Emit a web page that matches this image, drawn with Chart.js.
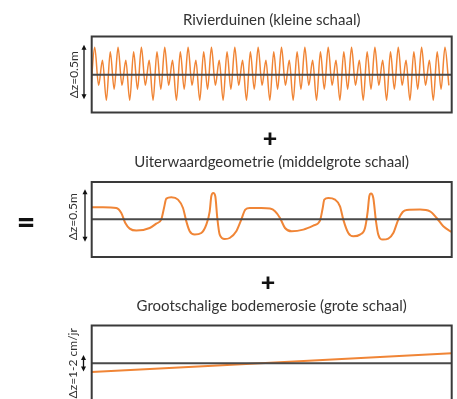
<!DOCTYPE html>
<html><head><meta charset="utf-8">
<script src="https://cdn.jsdelivr.net/npm/chart.js@4.4.1/dist/chart.umd.min.js"></script>
<style>
html,body{margin:0;padding:0;background:#fff;overflow:hidden;}
#wrap{position:relative;width:457px;height:399px;overflow:hidden;background:#fff;}
.c{position:absolute;left:0;width:457px;}
.c canvas{display:block;}
.sym{position:absolute;font-family:Lato,"DejaVu Sans",sans-serif;font-weight:900;color:#111;line-height:1;transform:translate(-50%,-50%);}
</style></head><body>
<div id="wrap">
  <div class="c" style="top:0;height:120px"><canvas id="c1" width="457" height="120"></canvas></div>
  <div class="c" style="top:150px;height:112px"><canvas id="c2" width="457" height="112"></canvas></div>
  <div class="c" style="top:292px;height:115px"><canvas id="c3" width="457" height="115"></canvas></div>
  <div class="sym" style="left:270px;top:137px;font-size:25px">+</div>
  <div class="sym" style="left:268px;top:281px;font-size:25px">+</div>
  <div class="sym" style="left:26px;top:221px;font-size:32px">=</div>
</div>
<script>
// ---------- data ----------
const panelTitles = [
  "Rivierduinen (kleine schaal)",
  "Uiterwaardgeometrie (middelgrote schaal)",
  "Grootschalige bodemerosie (grote schaal)"
];
const axisLabels = ["Δz=0.5m", "Δz=0.5m", "Δz=1-2 cm/jr"];

// river dunes: successive crest / trough heights (half-wave steps)
const duneHeights = [
  -14.5,
  27.5, -10.5, 14.5, -25.5, 23, -14.5,
  27.5, -10.5, 14.5, -25.5, 23, -14.5,
  27.5, -10.5, 14.5, -25.5, 23, -14.5,
  27.5, -10.5, 14.5, -25.5, 23, -14.5,
  27.5, -10.5, 14.5, -25.5, 23, -14.5,
  27.5, -10.5, 14.5, -25.5, 23, -14.5,
  27.5, -10.5, 14.5, -25.5, 23, -14.5,
  27.5, -10.5, 14.5, -25.5, 23, -14.5,
  27.5, -10.5, 14.5, -25.5, 23, -14.5,
  27.5, -10.5, 14.5, -25.5, 23, -14.5,
  27.5, -10.5, 14.5, -25.5, 23, -14.5,
  27.5, -10.5, 14.5, -25.5, 23, -14.5,
  27.5, -10.5, 14.5, -25.5, 23, -14.5,
  27.5, -10.5, 14.5, -25.5, 23, -14.5,
  27.5, -10.5, 14.5, -25.5, 23, -14.5,
  27.5, -10.5
];

// floodplain geometry: distance along river / bed level
const geoX = [0, 11.3, 24.6, 29.6, 33.6, 38, 44.6, 58, 64.6, 69.6, 72.3, 74.6, 79.6, 86.3, 91.3, 94.6, 98, 103, 109.6, 114.6,
  118, 119.6, 121.6, 123.6, 125.6, 128, 133, 138, 144.6, 149.6, 153.6, 158, 169.6, 178.3, 183.3, 188.3, 193.3, 200, 211.6, 221.6,
  228.3, 231, 232.6, 236.6, 243.3, 248.3, 251.6, 256.6, 261.6, 268.3, 273.3, 276, 277.6, 279.3, 281.6, 284.3, 286.6, 291, 296.6, 301.6,
  306.6, 311, 315, 328.3, 338.3, 345, 351.6, 360];
const geoY = [12, 12, 11.3, 6.3, -3.7, -9.3, -11.3, -8.7, -4.3, 0, 11.3, 20.7, 22, 19.7, 11.3, -2, -12, -15.3, -13.7, -5.3,
  8, 23, 26.3, 23, 1.3, -15.3, -19.7, -18.7, -12, -0.3, 9.7, 11.3, 11.3, 10.7, 8, 1.3, -8.7, -12, -10.3, -6.3,
  -1.3, 11.3, 19.7, 21.3, 19.7, 13, -0.3, -13.7, -17, -15.3, -8.7, 8, 23, 25.7, 21.3, -2, -15.3, -20.3, -19.3, -13.7,
  -0.3, 7.3, 9.3, 9.7, 8, 1.3, -7, -12.7];

// large-scale bed erosion: start / end level
const erosionX = [0, 360];
const erosionY = [-8.7, 10];

// ---------- drawing ----------
const ORANGE = '#F08536';
const AXIS = '#4a4a4a';
const FONT = 'Lato, "Open Sans", sans-serif';

const dzPlugin = {
  id: 'dz',
  afterDraw(chart, args, o) {
    const ctx = chart.ctx, ys = chart.scales.y, a = chart.chartArea;
    ctx.save();
    // frame
    ctx.strokeStyle = '#3a3a3a';
    ctx.lineWidth = 2;
    ctx.strokeRect(a.left, a.top, a.right - a.left, a.bottom - a.top);
    // double arrow
    const y1 = ys.getPixelForValue(o.arrowTop), y2 = ys.getPixelForValue(o.arrowBottom);
    ctx.strokeStyle = '#111'; ctx.fillStyle = '#111'; ctx.lineWidth = 1.3;
    ctx.beginPath(); ctx.moveTo(o.arrowX, y1 + 3); ctx.lineTo(o.arrowX, y2 - 3); ctx.stroke();
    ctx.beginPath(); ctx.moveTo(o.arrowX, y1); ctx.lineTo(o.arrowX - 2.5, y1 + 5); ctx.lineTo(o.arrowX + 2.5, y1 + 5); ctx.closePath(); ctx.fill();
    ctx.beginPath(); ctx.moveTo(o.arrowX, y2); ctx.lineTo(o.arrowX - 2.5, y2 - 5); ctx.lineTo(o.arrowX + 2.5, y2 - 5); ctx.closePath(); ctx.fill();
    // label
    ctx.translate(o.labelX, ys.getPixelForValue(o.labelAt));
    ctx.rotate(-Math.PI / 2);
    ctx.font = '12px ' + FONT;
    ctx.fillStyle = '#333';
    ctx.textAlign = 'center';
    ctx.textBaseline = 'middle';
    ctx.fillText(o.text, 0, 0);
    ctx.restore();
  }
};

function makeChart(id, cfg) {
  return new Chart(document.getElementById(id), {
    type: 'line',
    data: {
      datasets: [
        { data: [{x: cfg.xmin, y: 0}, {x: cfg.xmax, y: 0}], borderColor: AXIS, borderWidth: 2, pointRadius: 0, tension: 0 },
        { data: cfg.points, borderColor: ORANGE, borderWidth: cfg.lw, pointRadius: 0, cubicInterpolationMode: 'monotone' }
      ]
    },
    options: {
      responsive: false,
      animation: false,
      devicePixelRatio: 1,
      layout: { padding: cfg.pad },
      scales: {
        x: { type: 'linear', min: cfg.xmin, max: cfg.xmax, display: false },
        y: { type: 'linear', min: cfg.ymin, max: cfg.ymax, display: false }
      },
      plugins: {
        legend: { display: false },
        tooltip: { enabled: false },
        title: { display: true, text: cfg.title, color: '#333', font: { family: FONT, size: 15, weight: 'normal', lineHeight: 1.2 }, padding: cfg.tpad },
        dz: cfg.dz
      }
    },
    plugins: [dzPlugin]
  });
}

makeChart('c1', {
  title: panelTitles[0],
  points: duneHeights.map((v, i) => ({x: i - 1, y: v})),
  xmin: -0.77, xmax: 91.73, ymin: -37.7, ymax: 38.3, lw: 1.5,
  pad: {left: 91.7, right: 5.3, top: 0, bottom: 7.5},
  tpad: {top: 11, bottom: 7.5},
  dz: {text: axisLabels[0], labelX: 74, labelAt: 0, arrowX: 84, arrowTop: 30, arrowBottom: -24.5}
});
makeChart('c2', {
  title: panelTitles[1],
  points: geoX.map((x, i) => ({x: x, y: geoY[i]})),
  xmin: 0, xmax: 360, ymin: -37.7, ymax: 37.3, lw: 2,
  pad: {left: 91.7, right: 5.3, top: 0, bottom: 5},
  tpad: {top: 3.3, bottom: 10.7},
  dz: {text: axisLabels[1], labelX: 73, labelAt: 2.5, arrowX: 85, arrowTop: 30, arrowBottom: -22.5}
});
makeChart('c3', {
  title: panelTitles[2],
  points: erosionX.map((x, i) => ({x: x, y: erosionY[i]})),
  xmin: 0, xmax: 360, ymin: -37.8, ymax: 37.8, lw: 2,
  pad: {left: 91.7, right: 5.3, top: 0, bottom: 5.9},
  tpad: {top: 5, bottom: 10.5},
  dz: {text: axisLabels[2], labelX: 73.5, labelAt: 0, arrowX: 83.5, arrowTop: 8.3, arrowBottom: -8.3}
});
</script>
</body></html>
